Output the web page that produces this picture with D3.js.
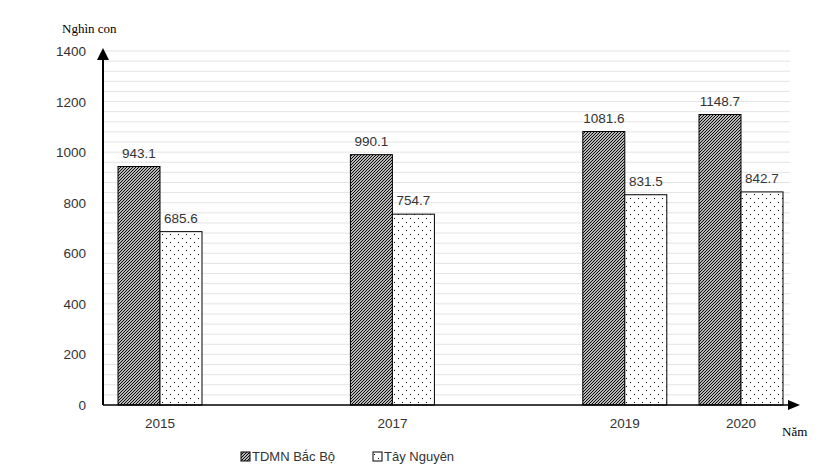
<!DOCTYPE html><html><head><meta charset="utf-8"><script src="https://cdn.jsdelivr.net/npm/d3@7"></script>
<style>body{margin:0;background:#fff}</style></head><body><svg id="c" width="821" height="470"></svg>
<script>
const years=[2015,2017,2019,2020];
const tdmn=[943.1,990.1,1081.6,1148.7];
const tayNguyen=[685.6,754.7,831.5,842.7];
const yTicks=[0,200,400,600,800,1000,1200,1400];
const svg=d3.select("#c");
const defs=svg.append("defs");
const hp=defs.append("pattern").attr("id","hatch").attr("patternUnits","userSpaceOnUse").attr("width",3).attr("height",3);
hp.append("rect").attr("width",3).attr("height",3).attr("fill","#fff");
hp.append("path").attr("d","M-1,1 l2,-2 M0,3 l3,-3 M2,4 l2,-2").attr("stroke","#000").attr("stroke-width",1.1);
const dp=defs.append("pattern").attr("id","dots").attr("patternUnits","userSpaceOnUse").attr("width",8).attr("height",8);
dp.append("rect").attr("width",8).attr("height",8).attr("fill","#fff");
dp.append("rect").attr("x",2).attr("y",2).attr("width",1).attr("height",1).attr("fill","#000");
dp.append("rect").attr("x",6).attr("y",6).attr("width",1).attr("height",1).attr("fill","#000");
const x=d3.scaleLinear().domain([2015,2020]).range([160,741]);
const y=d3.scaleLinear().domain([0,1400]).range([405,51]);
const bw=42;
const g=svg.append("g");
d3.range(40,1400,40).forEach(v=>g.append("line").attr("x1",103).attr("x2",790).attr("y1",y(v)).attr("y2",y(v)).attr("stroke","#e4e4e4"));
g.append("line").attr("x1",103).attr("x2",790).attr("y1",y(1400)).attr("y2",y(1400)).attr("stroke","#e4e4e4");
const tf="Liberation Sans, Arial, sans-serif";
yTicks.forEach(v=>g.append("text").attr("x",86).attr("y",y(v)+5).attr("text-anchor","end").attr("font-family",tf).attr("font-size",13.5).attr("fill","#333").text(v));
years.forEach((yr,i)=>{
 g.append("rect").attr("x",x(yr)-bw).attr("y",y(tdmn[i])).attr("width",bw).attr("height",y(0)-y(tdmn[i])).attr("fill","url(#hatch)").attr("stroke","#000");
 g.append("rect").attr("x",x(yr)).attr("y",y(tayNguyen[i])).attr("width",bw).attr("height",y(0)-y(tayNguyen[i])).attr("fill","url(#dots)").attr("stroke","#000");
 g.append("text").attr("x",x(yr)-bw/2).attr("y",y(tdmn[i])-9).attr("text-anchor","middle").attr("font-family",tf).attr("font-size",13.5).attr("fill","#333").text(tdmn[i]);
 g.append("text").attr("x",x(yr)+bw/2).attr("y",y(tayNguyen[i])-9).attr("text-anchor","middle").attr("font-family",tf).attr("font-size",13.5).attr("fill","#333").text(tayNguyen[i]);
 g.append("text").attr("x",x(yr)).attr("y",428).attr("text-anchor","middle").attr("font-family",tf).attr("font-size",13.5).attr("fill","#333").text(yr);
});
g.append("line").attr("x1",103).attr("x2",103).attr("y1",405).attr("y2",58).attr("stroke","#000").attr("stroke-width",2);
g.append("path").attr("d","M97,60 L103,48 L109,60 Z");
g.append("line").attr("x1",103).attr("x2",790).attr("y1",405).attr("y2",405).attr("stroke","#000").attr("stroke-width",1.5);
g.append("path").attr("d","M788,400 L800,405 L788,410 Z");
g.append("text").attr("x",62).attr("y",33).attr("font-family","Liberation Serif, serif").attr("font-size",13).text("Nghìn con");
g.append("text").attr("x",782).attr("y",436).attr("font-family","Liberation Serif, serif").attr("font-size",13).text("Năm");
g.append("rect").attr("x",241).attr("y",452).attr("width",9).attr("height",9).attr("fill","url(#hatch)").attr("stroke","#000");
g.append("text").attr("x",252).attr("y",461).attr("font-family",tf).attr("font-size",13).attr("fill","#333").text("TDMN Bắc Bộ");
g.append("rect").attr("x",373).attr("y",452).attr("width",9).attr("height",9).attr("fill","url(#dots)").attr("stroke","#000");
g.append("text").attr("x",384).attr("y",461).attr("font-family",tf).attr("font-size",13).attr("fill","#333").text("Tây Nguyên");
</script></body></html>
